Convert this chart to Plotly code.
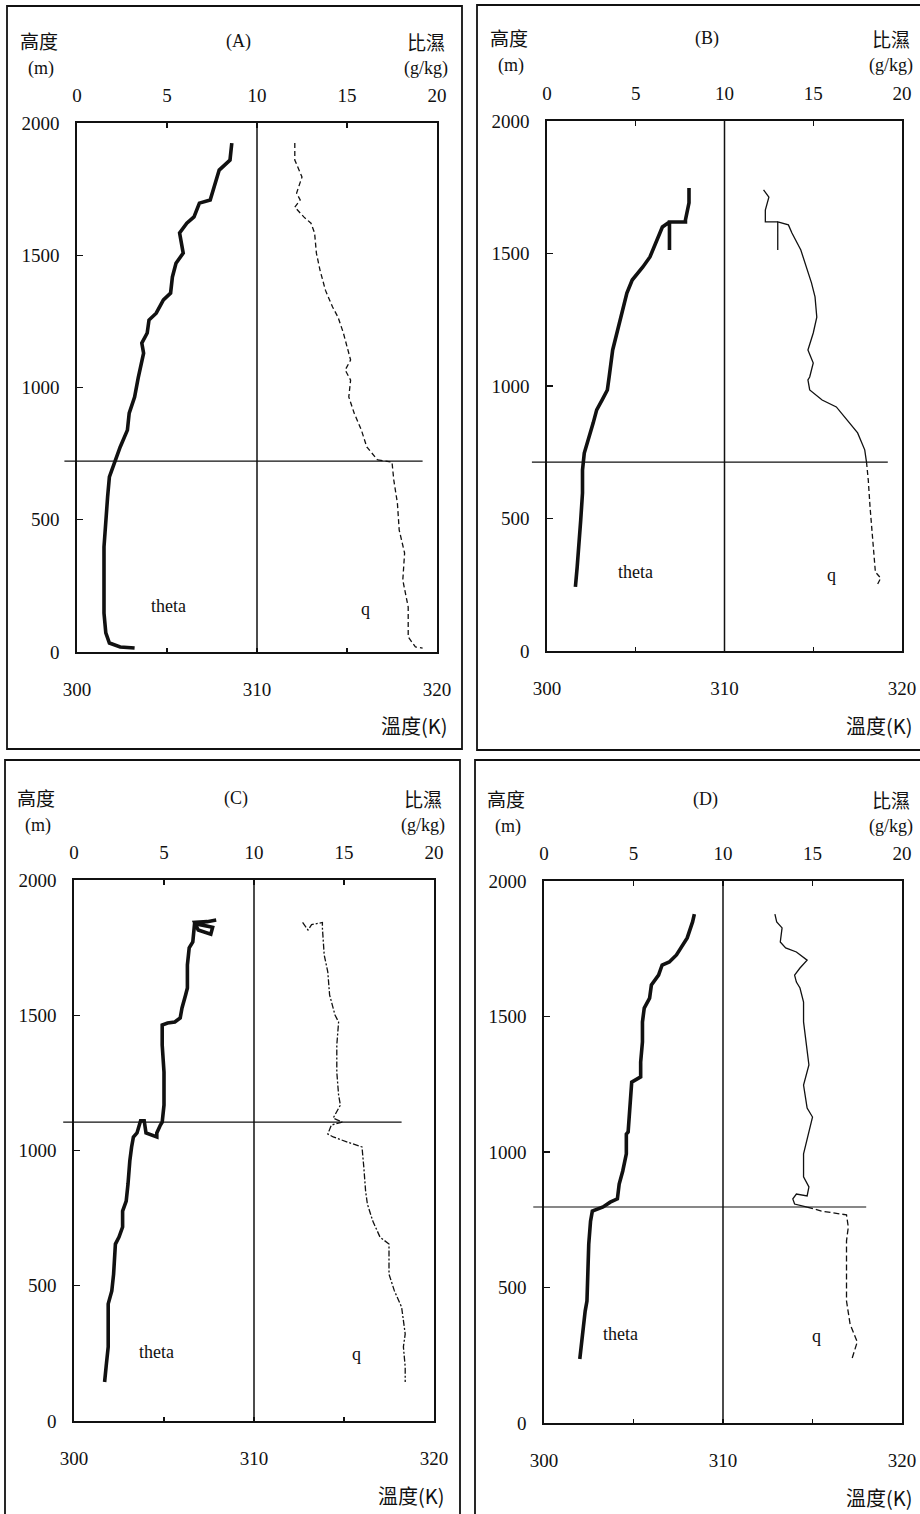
import plotly.graph_objects as go

W, H = 920, 1514

# ---------------- data ----------------
panel_names = ["(A)", "(B)", "(C)", "(D)"]
ml_height = [722, 713, 1105, 797]           # mixed-layer top (m)
ml_left_K = [299.3, 299.15, 299.4, 299.4]   # extent of the ML line (K units)
ml_right_K = [319.2, 319.2, 318.2, 318.0]

theta_label_K = [305.1, 305.0, 304.6, 304.3]
theta_label_h = [174, 298, 255, 328]
q_label_g = [16.0, 16.0, 15.7, 15.2]
q_label_h = [163, 287, 248, 320]

A_th_h = [1924, 1860, 1822, 1758, 1709, 1697, 1645, 1621, 1584, 1508, 1470, 1418, 1357, 1331, 1281,
          1255, 1206, 1168, 1130, 1036, 964, 903, 839, 775, 722, 662, 586, 499, 397, 272, 147, 72,
          34, 19, 15]
A_th_K = [308.6, 308.5, 307.9, 307.6, 307.4, 306.8, 306.5, 306.1, 305.7, 305.9, 305.5, 305.3, 305.2,
          304.8, 304.4, 304.0, 303.9, 303.6, 303.7, 303.4, 303.2, 302.9, 302.8, 302.4, 302.1, 301.8,
          301.7, 301.6, 301.5, 301.5, 301.5, 301.6, 301.8, 302.4, 303.2]
A_q_h = [1924, 1860, 1796, 1735, 1709, 1682, 1645, 1621, 1584, 1508, 1444, 1368, 1304, 1266, 1206,
         1153, 1104, 1066, 1028, 964, 903, 839, 775, 726, 718, 650, 563, 461, 374, 272, 170, 57, 19, 15]
A_q_g = [12.1, 12.1, 12.5, 12.2, 12.4, 12.1, 12.6, 13.0, 13.2, 13.3, 13.5, 13.8, 14.2, 14.5, 14.8,
         15.0, 15.2, 14.9, 15.2, 15.1, 15.4, 15.8, 16.1, 16.7, 17.5, 17.6, 17.8, 17.9, 18.2, 18.1,
         18.4, 18.4, 18.8, 19.2]

B_th_h = [1747, 1691, 1627, 1619, 1619, 1513, 1619, 1600, 1551, 1487, 1449, 1400, 1351, 1298, 1238,
          1185, 1136, 1034, 985, 947, 910, 860, 796, 747, 683, 596, 494, 392, 317, 242]
B_th_K = [308.0, 308.0, 307.8, 307.8, 306.9, 306.9, 306.9, 306.5, 306.2, 305.8, 305.4, 304.8, 304.5,
          304.3, 304.1, 303.9, 303.7, 303.5, 303.4, 303.1, 302.8, 302.6, 302.3, 302.1, 302.0, 302.0,
          301.9, 301.8, 301.7, 301.6]
B_q_h = [1740, 1713, 1664, 1619, 1619, 1513, 1619, 1608, 1577, 1513, 1449, 1389, 1336, 1260, 1200,
         1136, 1087, 1034, 1023, 985, 947, 921, 872, 823, 759, 713, 645, 543, 457, 370, 298, 275, 249]
B_q_g = [12.2, 12.5, 12.3, 12.3, 13.0, 13.0, 13.0, 13.6, 13.8, 14.3, 14.6, 14.9, 15.1, 15.2, 15.0,
         14.7, 15.0, 14.8, 14.7, 14.8, 15.5, 16.3, 16.9, 17.5, 17.9, 18.0, 18.1, 18.2, 18.3, 18.4,
         18.5, 18.8, 18.6]

C_th_h = [1852, 1846, 1843, 1815, 1800, 1825, 1835, 1840, 1771, 1749, 1686, 1601, 1575, 1527, 1490,
          1475, 1471, 1464, 1390, 1290, 1168, 1105, 1094, 1065, 1050, 1065, 1110, 1110, 1065, 1050,
          1013, 961, 876, 813, 776, 717, 680, 654, 543, 481, 433, 274, 211, 144]
C_th_K = [307.9, 307.4, 306.7, 306.9, 307.6, 307.7, 307.0, 306.7, 306.6, 306.4, 306.3, 306.3, 306.2,
          306.0, 305.9, 305.6, 305.2, 304.9, 304.9, 305.0, 305.0, 304.9, 304.8, 304.6, 304.6, 304.0,
          303.9, 303.7, 303.5, 303.3, 303.2, 303.1, 303.0, 302.9, 302.7, 302.7, 302.5, 302.3, 302.2,
          302.1, 301.9, 301.9, 301.8, 301.7]
C_q_h = [1843, 1815, 1835, 1843, 1823, 1723, 1660, 1575, 1501, 1475, 1390, 1290, 1205, 1168, 1120,
         1105, 1094, 1061, 1050, 1031, 1013, 939, 850, 802, 739, 680, 654, 543, 481, 421, 322, 274,
         200, 144]
C_q_g = [12.7, 13.0, 13.2, 13.8, 13.8, 13.9, 14.1, 14.2, 14.5, 14.7, 14.6, 14.6, 14.7, 14.8, 14.4,
         14.9, 14.3, 14.1, 14.4, 15.2, 16.0, 16.1, 16.2, 16.3, 16.6, 17.0, 17.5, 17.5, 17.8, 18.2,
         18.4, 18.3, 18.4, 18.4]

D_th_h = [1878, 1849, 1790, 1756, 1727, 1701, 1690, 1653, 1616, 1568, 1531, 1480, 1406, 1332, 1277,
          1258, 1173, 1074, 1066, 993, 930, 882, 827, 815, 797, 782, 745, 660, 450, 413, 354, 303, 236]
D_th_K = [308.4, 308.3, 308.0, 307.7, 307.4, 307.0, 306.6, 306.4, 306.0, 305.9, 305.6, 305.5, 305.5,
          305.4, 305.4, 304.9, 304.8, 304.7, 304.6, 304.6, 304.4, 304.2, 304.1, 303.7, 303.3, 302.7,
          302.6, 302.5, 302.4, 302.3, 302.2, 302.1, 302.0]
D_q_h = [1878, 1849, 1827, 1775, 1753, 1738, 1708, 1679, 1653, 1627, 1605, 1553, 1480, 1358, 1321,
         1247, 1162, 1129, 1074, 1041, 993, 908, 871, 838, 845, 827, 808, 797, 782, 768, 723, 672,
         450, 365, 299, 236]
D_q_g = [12.9, 13.0, 13.3, 13.2, 13.5, 14.1, 14.7, 14.3, 14.0, 14.1, 14.3, 14.5, 14.5, 14.7, 14.8,
         14.5, 14.7, 15.0, 14.8, 14.7, 14.5, 14.5, 14.8, 14.7, 14.1, 13.9, 14.0, 14.7, 15.5, 16.9,
         17.0, 16.9, 16.9, 17.1, 17.5, 17.2]

theta_h = [A_th_h, B_th_h, C_th_h, D_th_h]
theta_K = [A_th_K, B_th_K, C_th_K, D_th_K]
q_h = [A_q_h, B_q_h, C_q_h, D_q_h]
q_g = [A_q_g, B_q_g, C_q_g, D_q_g]

x_ticks_K = [300, 305, 310, 315, 320]
x_ticktext_K = ["300", "", "310", "", "320"]
x_ticks_q = [0, 5, 10, 15, 20]
y_ticks = [0, 500, 1000, 1500, 2000]

# ---------------- layout (pixel boxes) ----------------
plot_px = [  # left, right, top, bottom in pixels
    (77, 437, 123, 652),
    (547, 902, 121, 651),
    (74, 434, 880, 1421),
    (544, 902, 881, 1423),
]
outer_px = [
    (7, 462, 6, 749),
    (477, 930, 5, 750),
    (5, 460, 760, 1530),
    (475, 930, 760, 1530),
]
q_upper_dash = ["5px,3px", "solid", "6px,2px,2px,2px", "solid"]
q_lower_dash = ["5px,3px", "5px,3px", "6px,2px,2px,2px", "6px,3px"]

INK = "#111111"
NUM_FONT = dict(family="Liberation Serif", size=19, color=INK)
LAT_FONT = dict(family="Liberation Serif", size=18, color=INK)
CJK_FONT = dict(family="Noto Sans CJK TC", size=19, color=INK)
CJK_FONT_B = dict(family="Noto Sans CJK TC", size=20, color=INK)

fig = go.Figure()
layout = dict(
    width=W, height=H, margin=dict(l=0, r=0, t=0, b=0, autoexpand=False),
    paper_bgcolor="white", plot_bgcolor="white", showlegend=False,
    shapes=[], annotations=[],
)

for i in range(4):
    xk = f"x{2*i+1}"
    xq = f"x{2*i+2}"
    yk = f"y{i+1}"
    xk_name = "xaxis" if i == 0 else f"xaxis{2*i+1}"
    xq_name = f"xaxis{2*i+2}"
    y_name = "yaxis" if i == 0 else f"yaxis{i+1}"
    xk_ref = "x" if i == 0 else xk
    yk_ref = "y" if i == 0 else yk
    l, r, t, b = plot_px[i]
    dom_x = [l / W, r / W]
    dom_y = [1 - b / H, 1 - t / H]

    layout[xk_name] = dict(
        domain=dom_x, range=[300, 320], anchor=yk_ref, side="bottom",
        tickmode="array", tickvals=x_ticks_K, ticktext=x_ticktext_K,
        ticks="inside", ticklen=4, tickwidth=1.2, tickcolor=INK,
        showline=True, mirror=True, linecolor=INK, linewidth=1.6,
        showgrid=False, zeroline=False, tickfont=NUM_FONT, ticklabelstandoff=20,
        fixedrange=True, automargin=False,
    )
    layout[xq_name] = dict(
        domain=dom_x, range=[0, 20], anchor=yk_ref, overlaying=xk_ref, side="top",
        tickmode="array", tickvals=x_ticks_q,
        ticks="inside", ticklen=5, tickwidth=1.2, tickcolor=INK,
        showline=False, showgrid=False, zeroline=False, tickfont=NUM_FONT,
        ticklabelstandoff=16, fixedrange=True, automargin=False,
    )
    layout[y_name] = dict(
        domain=dom_y, range=[0, 2000], anchor=xk_ref,
        tickmode="array", tickvals=y_ticks,
        ticks="inside", ticklen=6, tickwidth=1.2, tickcolor=INK,
        showline=True, mirror=True, linecolor=INK, linewidth=1.6,
        showgrid=False, zeroline=False, tickfont=NUM_FONT, ticklabelstandoff=12,
        fixedrange=True, automargin=False,
    )

    # theta profile
    fig.add_trace(go.Scatter(
        x=theta_K[i], y=theta_h[i], xaxis=xk_ref, yaxis=yk_ref, mode="lines",
        line=dict(color=INK, width=3.6), hoverinfo="skip"))

    # q profile: split at ML height
    hh, gg = q_h[i], q_g[i]
    up_idx = [k for k in range(len(hh)) if hh[k] >= ml_height[i]]
    last_up = max(up_idx)
    up_h, up_g = hh[:last_up + 1], gg[:last_up + 1]
    lo_h, lo_g = hh[last_up:], gg[last_up:]
    fig.add_trace(go.Scatter(
        x=up_g, y=up_h, xaxis=xq, yaxis=yk_ref, mode="lines",
        line=dict(color=INK, width=1.3, dash=q_upper_dash[i]), hoverinfo="skip"))
    fig.add_trace(go.Scatter(
        x=lo_g, y=lo_h, xaxis=xq, yaxis=yk_ref, mode="lines",
        line=dict(color=INK, width=1.3, dash=q_lower_dash[i]), hoverinfo="skip"))

    # vertical line at 310 K / 10 g/kg
    layout["shapes"].append(dict(
        type="line", xref=xk_ref, yref=f"{yk_ref} domain", x0=310, x1=310, y0=0, y1=1,
        line=dict(color=INK, width=1.5), layer="above"))
    # mixed-layer top line (extends slightly past the left axis)
    fx0 = (ml_left_K[i] - 300) / 20
    fx1 = (ml_right_K[i] - 300) / 20
    layout["shapes"].append(dict(
        type="line", xref=f"{xk_ref} domain", yref=yk_ref, x0=fx0, x1=fx1,
        y0=ml_height[i], y1=ml_height[i], line=dict(color=INK, width=1.2), layer="above"))

    # outer panel frame
    ol, orr, ot, ob = outer_px[i]
    layout["shapes"].append(dict(
        type="rect", xref="paper", yref="paper", x0=ol / W, x1=orr / W,
        y0=1 - ob / H, y1=1 - ot / H, line=dict(color=INK, width=1.8)))

    # in-plot labels
    layout["annotations"].append(dict(
        text="theta", x=theta_label_K[i], y=theta_label_h[i], xref=xk_ref, yref=yk_ref,
        showarrow=False, font=LAT_FONT))
    layout["annotations"].append(dict(
        text="q", x=q_label_g[i], y=q_label_h[i], xref=xq, yref=yk_ref,
        showarrow=False, font=LAT_FONT))

    xd = f"{xk_ref} domain"
    yd = f"{yk_ref} domain"
    # header texts
    layout["annotations"] += [
        dict(text="高度", x=0, y=1, xref=xd, yref=yd, xanchor="left", yanchor="middle",
             xshift=-59, yshift=83, showarrow=False, font=CJK_FONT),
        dict(text="(m)", x=0, y=1, xref=xd, yref=yd, xanchor="center", yanchor="middle",
             xshift=-36, yshift=55, showarrow=False, font=LAT_FONT),
        dict(text=panel_names[i], x=0.45, y=1, xref=xd, yref=yd, xanchor="center",
             yanchor="middle", yshift=82, showarrow=False, font=LAT_FONT),
        dict(text="比濕", x=1, y=1, xref=xd, yref=yd, xanchor="right", yanchor="middle",
             xshift=10, yshift=82, showarrow=False, font=CJK_FONT),
        dict(text="(g/kg)", x=1, y=1, xref=xd, yref=yd, xanchor="right", yanchor="middle",
             xshift=13, yshift=55, showarrow=False, font=LAT_FONT),
        dict(text="溫度(K)", x=1, y=0, xref=xd, yref=yd, xanchor="right", yanchor="middle",
             xshift=12, yshift=-74, showarrow=False, font=CJK_FONT_B),
    ]

fig.update_layout(**layout)
fig.write_html("out.html",
               config={"displayModeBar": False, "staticPlot": True},
               post_script="document.body.style.margin='0';document.body.style.overflow='hidden';")
